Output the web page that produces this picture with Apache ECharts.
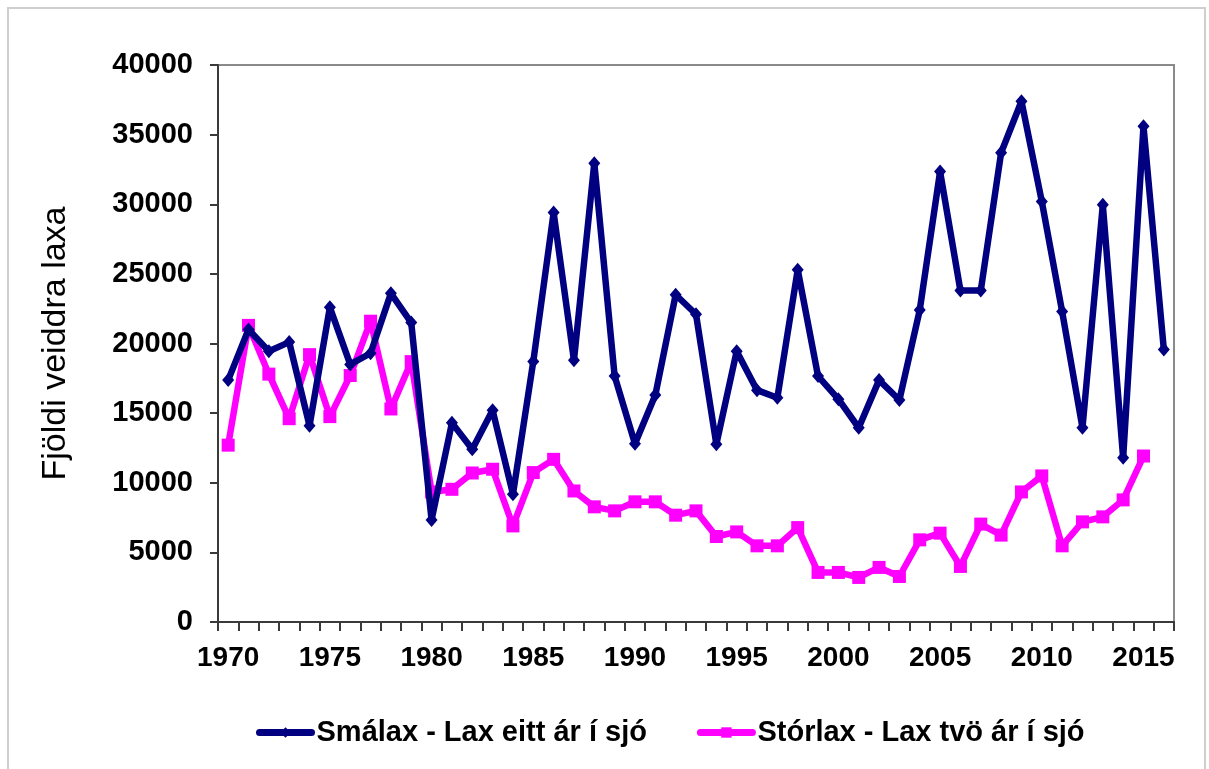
<!DOCTYPE html>
<html>
<head>
<meta charset="utf-8">
<script src="https://cdn.jsdelivr.net/npm/echarts@6/dist/echarts.min.js"></script>
<style>
html,body{margin:0;padding:0;background:#fff;}
#frame{position:absolute;left:7px;top:7px;width:1199px;height:770px;border:2px solid #cfcfcf;box-sizing:border-box;}
#chart{position:absolute;left:0;top:0;width:1209px;height:769px;}
</style>
</head>
<body>
<div id="frame"></div>
<div id="chart"></div>
<script>
const years = [];
for (let y = 1970; y <= 2016; y++) years.push(String(y));

const smalax = [17370, 21000, 19450, 20100, 14100, 22600, 18500, 19300, 23600, 21500,
  7330, 14300, 12400, 15200, 9180, 18700, 29400, 18800, 32950, 17660,
  12800, 16300, 23500, 22100, 12760, 19450, 16650, 16100, 25300, 17660,
  16000, 13950, 17370, 15940, 22400, 32350, 23800, 23800, 33700, 37400,
  30200, 22300, 13950, 29960, 11800, 35600, 19570];

const storlax = [12700, 21300, 17800, 14600, 19200, 14750, 17700, 21600, 15300, 18700,
  9340, 9530, 10700, 10970, 6900, 10730, 11680, 9410, 8270, 7980,
  8630, 8630, 7670, 7980, 6140, 6470, 5470, 5470, 6780, 3560,
  3560, 3200, 3920, 3270, 5900, 6380, 3990, 7030, 6240, 9340,
  10490, 5470, 7190, 7550, 8770, 11920, null];

const seriesNames = ['Smálax - Lax eitt ár í sjó', 'Stórlax - Lax tvö ár í sjó'];
const yTitle = 'Fjöldi veiddra laxa';

const font = '"Liberation Sans", Arial, sans-serif';
const chart = echarts.init(document.getElementById('chart'));
chart.setOption({
  animation: false,
  backgroundColor: 'transparent',
  grid: {
    left: 218, top: 65, right: 35, bottom: 147,
    show: true, borderColor: '#8a8a8a', borderWidth: 2, backgroundColor: 'transparent'
  },
  legend: {
    left: 251, top: 713,
    itemWidth: 52, itemHeight: 13, itemGap: 50,
    lineStyle: { width: 7, cap: 'round' },
    textStyle: { fontFamily: font, fontWeight: 'bold', fontSize: 29, color: '#000' },
    data: seriesNames
  },
  xAxis: {
    type: 'category',
    data: years,
    boundaryGap: true,
    axisLine: { lineStyle: { color: '#3a3a3a', width: 2 } },
    axisTick: { show: true, interval: 0, length: 9, lineStyle: { color: '#3a3a3a', width: 2 } },
    axisLabel: { interval: 4, margin: 22, fontFamily: font, fontWeight: 'bold', fontSize: 28, color: '#000' },
    splitLine: { show: false }
  },
  yAxis: {
    type: 'value',
    min: 0, max: 40000, interval: 5000,
    name: yTitle,
    nameLocation: 'middle',
    nameGap: 145,
    nameRotate: 90,
    nameTextStyle: { fontFamily: font, fontSize: 34, color: '#000' },
    axisLine: { show: true, lineStyle: { color: '#3a3a3a', width: 2 } },
    axisTick: { show: true, length: 8, lineStyle: { color: '#3a3a3a', width: 2 } },
    axisLabel: { margin: 25, fontFamily: font, fontWeight: 'bold', fontSize: 29, color: '#000',
      formatter: function (v) { return String(v); } },
    splitLine: { show: false }
  },
  series: [
    {
      name: seriesNames[0],
      type: 'line',
      data: smalax,
      color: '#000080',
      symbol: 'diamond',
      symbolSize: [12, 14],
      showAllSymbol: true,
      lineStyle: { width: 6.5, color: '#000080' },
      itemStyle: { color: '#000080' },
      z: 3
    },
    {
      name: seriesNames[1],
      type: 'line',
      data: storlax,
      color: '#ff00ff',
      symbol: 'rect',
      symbolSize: 13,
      showAllSymbol: true,
      lineStyle: { width: 6.5, color: '#ff00ff' },
      itemStyle: { color: '#ff00ff' },
      z: 2
    }
  ]
});
</script>
</body>
</html>
